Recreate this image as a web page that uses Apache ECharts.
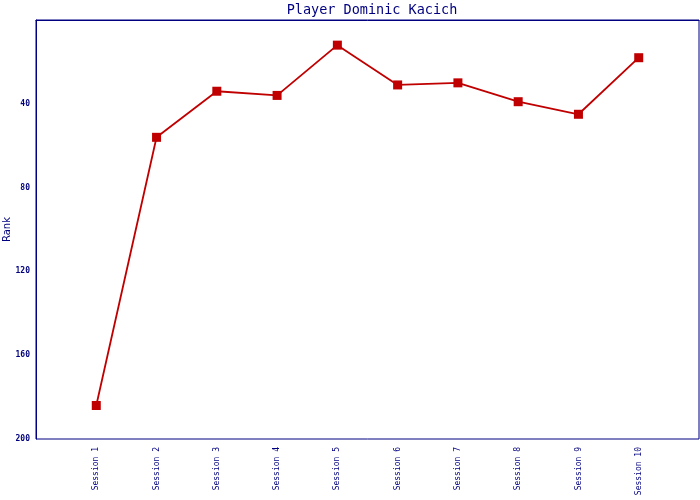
<!DOCTYPE html>
<html>
<head>
<meta charset="utf-8">
<script src="https://cdn.jsdelivr.net/npm/echarts@6/dist/echarts.min.js"></script>
<style>html,body{margin:0;padding:0;background:#fff}#c{width:700px;height:500px}</style>
</head>
<body>
<div id="c"></div>
<script>
var titleText = 'Player Dominic Kacich';
var yAxisName = 'Rank';
var sessions = ['Session 1','Session 2','Session 3','Session 4','Session 5','Session 6','Session 7','Session 8','Session 9','Session 10'];
var ranks = [184, 56, 34, 36, 12, 31, 30, 39, 45, 18];
var yTicks = [0, 40, 80, 120, 160, 200];

// pad with blank slots at both ends so points sit at 1..10 of 0..11
var cats = [''].concat(sessions).concat(['']);
var vals = [null].concat(ranks).concat([null]);

var navy = '#000080';
var chart = echarts.init(document.getElementById('c'), null, {renderer: 'canvas'});
chart.setOption({
  animation: false,
  backgroundColor: '#fff',
  title: {
    text: titleText, left: 367, textAlign: 'center', top: -2,
    textStyle: {fontFamily: 'DejaVu Sans Mono', fontSize: 13.5, fontWeight: 'normal', color: navy}
  },
  grid: {
    left: 36, top: 20, right: 1, bottom: 61,
    containLabel: false, outerBoundsMode: 'none',
    show: true, borderColor: navy, borderWidth: 1, backgroundColor: 'transparent'
  },
  xAxis: {
    type: 'category', data: cats, boundaryGap: false,
    axisLine: {show: true, lineStyle: {color: navy, width: 1}},
    axisTick: {show: false},
    splitLine: {show: false},
    axisLabel: {
      interval: 0, rotate: 90, margin: 8,
      fontFamily: 'DejaVu Sans Mono', fontSize: 8, color: navy
    }
  },
  yAxis: {
    type: 'value', inverse: true, min: yTicks[0], max: yTicks[yTicks.length - 1], interval: 40,
    name: yAxisName, nameLocation: 'middle', nameGap: 24, nameRotate: 90, nameMoveOverlap: false,
    nameTextStyle: {fontFamily: 'DejaVu Sans', fontSize: 10, color: navy},
    axisLine: {show: true, lineStyle: {color: navy, width: 1}},
    axisTick: {show: false},
    splitLine: {show: false},
    axisLabel: {
      margin: 6, fontFamily: 'DejaVu Sans Mono', fontSize: 8, fontWeight: 'bold', color: navy,
      formatter: function (v) { return v === 0 ? '' : String(v); }
    }
  },
  series: [{
    type: 'line', data: vals, connectNulls: false,
    symbol: 'rect', symbolSize: 9,
    lineStyle: {color: '#c00000', width: 1.8},
    itemStyle: {color: '#c00000'}
  }]
});
</script>
</body>
</html>
